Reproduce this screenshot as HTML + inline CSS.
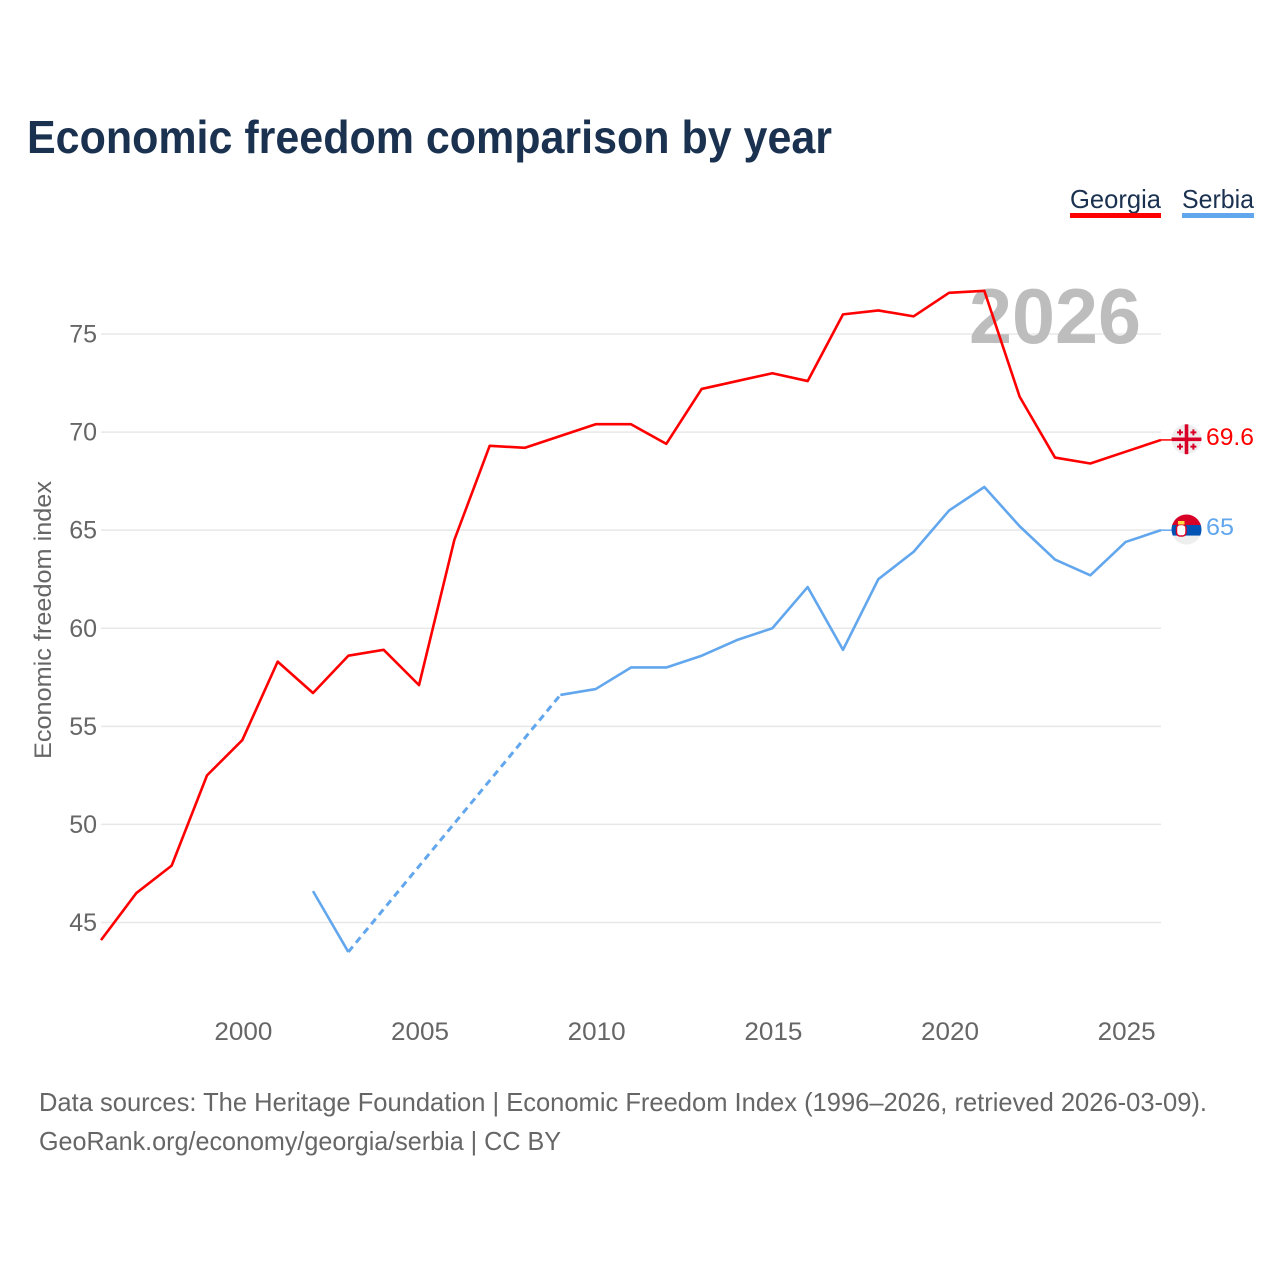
<!DOCTYPE html>
<html>
<head>
<meta charset="utf-8">
<title>Economic freedom comparison by year</title>
<style>
html,body{margin:0;padding:0;background:#fff;}
svg{display:block;}
text{font-family:"Liberation Sans",sans-serif;}
</style>
</head>
<body>
<svg id="chart" xmlns="http://www.w3.org/2000/svg" width="1280" height="1280" viewBox="0 0 1280 1280">
  <rect width="1280" height="1280" fill="#fff"/>
  <text x="27" y="153" font-size="46" font-weight="bold" fill="#1a3150" textLength="805" lengthAdjust="spacingAndGlyphs">Economic freedom comparison by year</text>
  <g id="grid"></g>
  <g id="yticks"></g>
  <g id="xticks"></g>
  <text transform="translate(51,620) rotate(-90)" text-anchor="middle" font-size="24" fill="#666" textLength="278" lengthAdjust="spacingAndGlyphs">Economic freedom index</text>
  <text x="969" y="343" font-size="78" font-weight="bold" fill="#bdbdbd" textLength="172" lengthAdjust="spacingAndGlyphs">2026</text>
  <g id="series"></g>

  <g>
    <text x="1070" y="208" font-size="26" fill="#1a3150" textLength="91" lengthAdjust="spacingAndGlyphs">Georgia</text>
    <rect x="1070" y="213" width="91" height="5" fill="#ff0000"/>
  </g>
  <g>
    <text x="1182" y="208" font-size="26" fill="#1a3150" textLength="72" lengthAdjust="spacingAndGlyphs">Serbia</text>
    <rect x="1182" y="213" width="72" height="5" fill="#62a7ee"/>
  </g>

  <defs>
    <clipPath id="georgiaClip"><circle cx="1186.5" cy="439.3" r="15"/></clipPath>
    <clipPath id="serbiaClip"><circle cx="1186.5" cy="529.5" r="15"/></clipPath>
  </defs>
  <g clip-path="url(#georgiaClip)">
    <rect x="1171" y="424" width="31" height="31" fill="#eeeeee"/>
    <rect x="1184.7" y="424" width="3.6" height="31" fill="#d80027"/>
    <rect x="1171" y="437.5" width="31" height="3.6" fill="#d80027"/>
    <path d="M1177 432.4h6M1180 429.4v6M1190.4 432.4h6M1193.4 429.4v6M1177 446.6h6M1180 443.6v6M1190.4 446.6h6M1193.4 443.6v6" stroke="#d80027" stroke-width="2" fill="none"/>
  </g>
  <g clip-path="url(#serbiaClip)">
    <rect x="1171" y="514" width="31" height="11" fill="#d80027"/>
    <rect x="1171" y="525" width="31" height="10.7" fill="#0052b4"/>
    <rect x="1171" y="535.7" width="31" height="10" fill="#eeeeee"/>
    <rect x="1176.5" y="524.5" width="9.5" height="11.5" rx="3.5" fill="#ffffff" stroke="#d80027" stroke-width="1.5"/>
    <rect x="1178" y="521" width="6.5" height="3.5" fill="#ffda44"/>
  </g>
  <text x="1206" y="445" font-size="24" fill="#ff0000" textLength="48" lengthAdjust="spacingAndGlyphs">69.6</text>
  <text x="1206" y="535" font-size="24" fill="#62a7ee" textLength="28" lengthAdjust="spacingAndGlyphs">65</text>

  <text x="39" y="1111" font-size="26" fill="#666" textLength="1168" lengthAdjust="spacingAndGlyphs">Data sources: The Heritage Foundation | Economic Freedom Index (1996–2026, retrieved 2026-03-09).</text>
  <text x="39" y="1150" font-size="26" fill="#666" textLength="522" lengthAdjust="spacingAndGlyphs">GeoRank.org/economy/georgia/serbia | CC BY</text>
</svg>
<script>
const years = [1996,1997,1998,1999,2000,2001,2002,2003,2004,2005,2006,2007,2008,2009,2010,2011,2012,2013,2014,2015,2016,2017,2018,2019,2020,2021,2022,2023,2024,2025,2026];
const georgiaValues = [44.1,46.5,47.9,52.5,54.3,58.3,56.7,58.6,58.9,57.1,64.5,69.3,69.2,69.8,70.4,70.4,69.4,72.2,72.6,73,72.6,76,76.2,75.9,77.1,77.2,71.8,68.7,68.4,69,69.6];
const serbiaValues = [null,null,null,null,null,null,46.6,43.5,null,null,null,null,null,56.6,56.9,58,58,58.6,59.4,60,62.1,58.9,62.5,63.9,66,67.2,65.2,63.5,62.7,64.4,65];
const yTickValues = [45,50,55,60,65,70,75];
const xTickValues = [2000,2005,2010,2015,2020,2025];

const NS = 'http://www.w3.org/2000/svg';
function xScale(year){ return 101 + (year - 1996) * (1161 - 101) / 30; }
function yScale(v){ return 334 + (75 - v) * (922.5 - 334) / 30; }
function make(tag, attrs, parent){
  const el = document.createElementNS(NS, tag);
  for (const k in attrs) el.setAttribute(k, attrs[k]);
  parent.appendChild(el);
  return el;
}
const gridG = document.getElementById('grid');
const yG = document.getElementById('yticks');
const xG = document.getElementById('xticks');
const seriesG = document.getElementById('series');

yTickValues.forEach(function(v){
  const line = make('line', {x1:101, x2:1161, y1:yScale(v), y2:yScale(v), stroke:'#e8e8e8', 'stroke-width':1.5}, gridG);
  
  
  const t = make('text', {x:97, y:yScale(v)+8.5, 'text-anchor':'end', 'font-size':25, fill:'#666'}, yG);
  
  
  t.textContent = v;
});
xTickValues.forEach(function(y){
  const t = make('text', {x:xScale(y)+1, y:1040, 'text-anchor':'middle', 'font-size':25, fill:'#666', textLength:58, lengthAdjust:'spacingAndGlyphs'}, xG);
  
  
  t.textContent = y;
});

function drawSeries(values, color, name){
  let run = [];
  let lastPoint = null;
  function flush(){
    if (run.length > 1){
      const p = make('polyline', {points:run.join(' '), fill:'none', stroke:color, 'stroke-width':2.6, 'stroke-linejoin':'round'}, seriesG);
      
      
    }
    run = [];
  }
  values.forEach(function(v, i){
    if (v === null){
      flush();
      return;
    }
    const pt = [xScale(years[i]), yScale(v)];
    if (lastPoint && lastPoint.i !== i - 1){
      const gap = make('line', {x1:lastPoint.pt[0], y1:lastPoint.pt[1], x2:pt[0], y2:pt[1], stroke:color, 'stroke-width':3, 'stroke-dasharray':'7 5'}, seriesG);
      
      
    }
    run.push(pt.join(','));
    lastPoint = {i:i, pt:pt};
  });
  flush();
  const lastY = lastPoint.pt[1];
  const lead = make('line', {x1:1161, x2:1172, y1:lastY, y2:lastY, stroke:color, 'stroke-width':1.5}, seriesG);
  
  
}
drawSeries(georgiaValues, '#ff0000', 'georgia');
drawSeries(serbiaValues, '#62a7ee', 'serbia');
</script>
</body>
</html>
